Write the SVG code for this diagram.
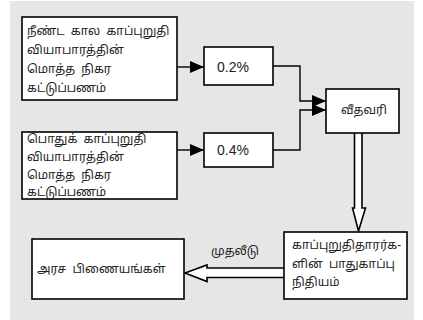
<svg xmlns="http://www.w3.org/2000/svg" width="423" height="320" viewBox="0 0 423 320">
<style>
.box{fill:#fff;stroke:#000;stroke-width:1.6}
.t{font-family:"Noto Sans Tamil","Noto Sans","Lohit Tamil",sans-serif;font-size:12px;fill:#222}
.n{font-family:"Liberation Sans",Arial,sans-serif;font-size:14px;fill:#222}
.ln{fill:none;stroke:#000;stroke-width:1.4}
</style>
<defs>
<marker id="ah" markerWidth="14" markerHeight="12" refX="14" refY="6" orient="auto" markerUnits="userSpaceOnUse">
<path d="M0,0 L14,6 L0,12 Z" fill="#000"/>
</marker>
</defs>
<rect x="10" y="1" width="404" height="319" fill="#e6e6e6"/>
<g id="connectors">
<path class="ln" d="M177,67 L204,67" marker-end="url(#ah)"/>
<path class="ln" d="M177,150 L204,150" marker-end="url(#ah)"/>
<path class="ln" d="M273,66 L300,66 L300,101 L326,101" marker-end="url(#ah)"/>
<path class="ln" d="M273,150 L300,150 L300,110 L326,110" marker-end="url(#ah)"/>
<path d="M354.5,133 L354.5,208 L352.5,208 L358.5,231 L365.5,208 L362,208 L362,133" fill="#fff" stroke="#000" stroke-width="1.6"/>
<path d="M284,268 L207,268 L207,265 L185,273 L207,281.5 L207,277.5 L284,277.5" fill="#fff" stroke="#000" stroke-width="1.6"/>
<text class="t" x="235" y="255" text-anchor="middle" font-size="10.5">முதலீடு</text>
</g>
<g id="node1">
<rect class="box" x="22" y="17" width="155" height="83"/>
<text class="t" xml:space="preserve"><tspan x="27" y="35">நீண்ட  கால  காப்புறுதி</tspan><tspan x="27" y="54">வியாபாரத்தின்</tspan><tspan x="27" y="73">மொத்த  நிகர</tspan><tspan x="27" y="92">கட்டுப்பணம்</tspan></text>
</g>
<g id="node2">
<rect class="box" x="22" y="132" width="155" height="67"/>
<text class="t" xml:space="preserve"><tspan x="27" y="143">பொதுக்  காப்புறுதி</tspan><tspan x="27" y="161">வியாபாரத்தின்</tspan><tspan x="27" y="179">மொத்த  நிகர</tspan><tspan x="27" y="196">கட்டுப்பணம்</tspan></text>
</g>
<g id="node3">
<rect class="box" x="204" y="47" width="69" height="38"/>
<text class="n" x="217" y="72">0.2%</text>
</g>
<g id="node4">
<rect class="box" x="204" y="133" width="69" height="34"/>
<text class="n" x="217" y="155">0.4%</text>
</g>
<g id="node5">
<rect class="box" x="326" y="89" width="73" height="44"/>
<text class="t" x="341" y="114">வீதவரி</text>
</g>
<g id="node6">
<rect class="box" x="284" y="232" width="123" height="67"/>
<text class="t" xml:space="preserve"><tspan x="292" y="249">காப்புறுதிதாரர்க-</tspan><tspan x="292" y="268">ளின்  பாதுகாப்பு</tspan><tspan x="292" y="286">நிதியம்</tspan></text>
</g>
<g id="node7">
<rect class="box" x="32" y="239" width="152" height="60"/>
<text class="t" xml:space="preserve" x="37" y="273">அரச  பிணையங்கள்</text>
</g>
</svg>
